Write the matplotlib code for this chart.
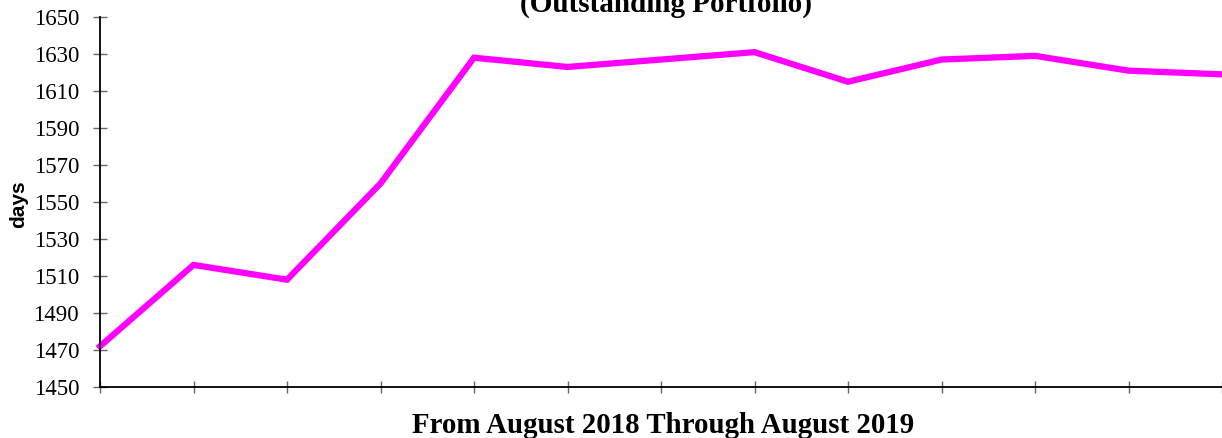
import matplotlib
matplotlib.use("Agg")
import matplotlib.pyplot as plt

# Monthly values, August 2018 through August 2019
months = ["Aug 2018", "Sep 2018", "Oct 2018", "Nov 2018", "Dec 2018", "Jan 2019",
          "Feb 2019", "Mar 2019", "Apr 2019", "May 2019", "Jun 2019", "Jul 2019",
          "Aug 2019"]
days = [1472, 1516, 1508, 1560, 1628, 1623, 1627, 1631, 1615, 1627, 1629, 1621, 1619]

# y axis ticks
y_ticks = list(range(1450, 1651, 20))

fig = plt.figure(figsize=(12.22, 4.38), dpi=100)
ax = fig.add_axes([100 / 1222, 1 - 387 / 438, 1 - 100 / 1222, 370 / 438])

x = list(range(len(months)))
ax.plot(x, days, color="#ff00ff", linewidth=4.5, solid_joinstyle="miter", clip_on=False)

ax.set_xlim(0, len(months) - 1)
ax.set_ylim(1450, 1650)
ax.set_yticks(y_ticks)
ax.set_xticks(x)
ax.set_xticklabels([])

for s in ["top", "right"]:
    ax.spines[s].set_visible(False)
for s in ["left", "bottom"]:
    ax.spines[s].set_linewidth(1.3)
    ax.spines[s].set_color("black")

ax.tick_params(axis="y", direction="inout", length=10, width=1, color="#666666",
               pad=10, labelsize=16.5)
ax.tick_params(axis="x", direction="inout", length=8, width=1, color="#666666")
for lab in ax.get_yticklabels():
    lab.set_fontfamily("Liberation Serif")

fig.text(19 / 1222, 1 - 204 / 438, "days", rotation=90, ha="center", va="center",
         fontsize=15, fontweight="bold", family="Liberation Sans")

fig.text(666 / 1222, 1 - 12 / 438, "(Outstanding Portfolio)", ha="center", va="baseline",
         fontsize=21, fontweight="bold", family="Liberation Serif")

fig.text(663 / 1222, 1 - 433 / 438, "From August 2018 Through August 2019", ha="center",
         va="baseline", fontsize=20.8, fontweight="bold", family="Liberation Serif")

fig.savefig("out.png", dpi=100)
